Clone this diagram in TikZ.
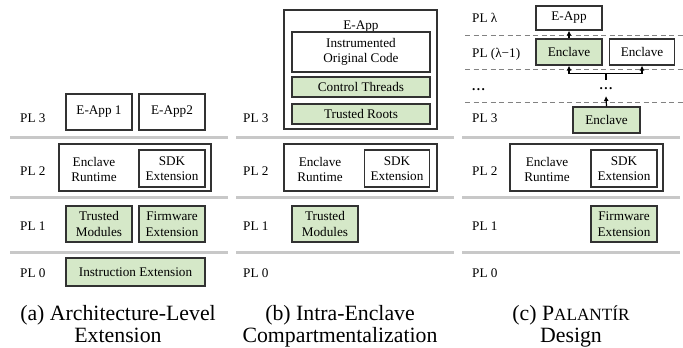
\documentclass[tikz,border=0pt]{standalone}
\usepackage{fontspec}
\setmainfont{Liberation Serif}
\usetikzlibrary{arrows.meta}
\definecolor{boxdraw}{RGB}{50,50,50}
\definecolor{greenfill}{RGB}{213,232,200}
\definecolor{sepgray}{RGB}{200,200,200}
\definecolor{dashgray}{RGB}{130,130,130}
\tikzset{
  box/.style={draw=boxdraw, line width=1.2pt, fill=white, inner sep=1pt, align=center,
    font=\fontsize{13.2}{15.6}\selectfont},
  gbox/.style={box, fill=greenfill},
  txt/.style={inner sep=0pt, align=center, font=\fontsize{13.2}{15.6}\selectfont},
  pl/.style={inner sep=0pt, anchor=base west, font=\fontsize{13.2}{15}\selectfont},
  captext/.style={inner sep=0pt, anchor=base, font=\fontsize{21.8}{22}\selectfont},
  sepline/.style={draw=sepgray, line width=3pt},
  dashline/.style={draw=dashgray, line width=0.9pt, dash pattern=on 5pt off 3.5pt},
  arr/.style={draw=black, line width=1.2pt, -{Latex[length=5pt,width=5pt]}},
  conn/.style={draw=black, line width=1.2pt},
}
\begin{document}
\begin{tikzpicture}[x=1pt,y=-1pt]
\useasboundingbox (0,0) rectangle (683,348);

% ---------- separators ----------
\foreach \yy in {137,197,252} {
  \draw[sepline] (10,\yy) -- (228,\yy);
  \draw[sepline] (236,\yy) -- (454,\yy);
  \draw[sepline] (462,\yy) -- (680,\yy);
}
\foreach \yy in {35,69.5,102} {
  \draw[dashline] (465,\yy) -- (683,\yy);
}

% ---------- panel (a) ----------
\node[pl] (plA3) at (20,122.8) {PL 3};
\node[pl] (plA2) at (20,175.4) {PL 2};
\node[pl] (plA1) at (20,230.4) {PL 1};
\node[pl] (plA0) at (20,277.4) {PL 0};
\node[box, minimum width=66pt, minimum height=36pt] (eappA1) at (99,112) {E-App 1};
\node[box, minimum width=66pt, minimum height=36pt] (eappA2) at (172,112) {E-App2};
\node[box, minimum width=152pt, minimum height=47pt] (rtA) at (135,167.5) {};
\node[txt] (rtAt) at (94,169.5) {Enclave\\Runtime};
\node[box, minimum width=66pt, minimum height=37pt] (sdkA) at (172,168.5) {SDK\\Extension};
\node[gbox, minimum width=66pt, minimum height=36pt] (tmA) at (99,224) {Trusted\\Modules};
\node[gbox, minimum width=66pt, minimum height=36pt] (fwA) at (172,224) {Firmware\\Extension};
\node[gbox, minimum width=139pt, minimum height=28pt] (insA) at (135.5,272) {Instruction Extension};
\node[captext] (capA1) at (118,320.7) {(a) Architecture-Level};
\node[captext] (capA2) at (118,342.7) {Extension};

% ---------- panel (b) ----------
\node[pl] (plB3) at (243,122.8) {PL 3};
\node[pl] (plB2) at (243,175.4) {PL 2};
\node[pl] (plB1) at (243,230.4) {PL 1};
\node[pl] (plB0) at (243,277.4) {PL 0};
\node[box, minimum width=153pt, minimum height=119pt] (eappB) at (360.5,69.5) {};
\node[txt, anchor=base] (eappBt) at (361,29.3) {E-App};
\node[box, minimum width=138pt, minimum height=40pt] (instrB) at (361,52) {Instrumented\\Original Code};
\node[gbox, minimum width=138pt, minimum height=20pt] (ctrlB) at (361,87) {Control Threads};
\node[gbox, minimum width=138pt, minimum height=20pt] (rootsB) at (361,114) {Trusted Roots};
\node[box, minimum width=153pt, minimum height=47pt] (rtB) at (360.5,167.5) {};
\node[txt] (rtBt) at (320,169.5) {Enclave\\Runtime};
\node[box, minimum width=65pt, minimum height=37pt] (sdkB) at (397,168.5) {SDK\\Extension};
\node[gbox, minimum width=66pt, minimum height=36pt] (tmB) at (325,224) {Trusted\\Modules};
\node[captext] (capB1) at (340,320.7) {(b) Intra-Enclave};
\node[captext] (capB2) at (340,342.7) {Compartmentalization};

% ---------- panel (c) ----------
\node[pl] (plCl) at (472,22.4) {PL λ};
\node[pl] (plCl1) at (472,57.4) {PL (λ−1)};
\node[pl] (dotsCl) at (472,90.5) {\textbf{.\kern1.4pt.\kern1.4pt.}};
\node[pl] (plC3) at (472,122.8) {PL 3};
\node[pl] (plC2) at (472,175.4) {PL 2};
\node[pl] (plC1) at (472,230.4) {PL 1};
\node[pl] (plC0) at (472,277.4) {PL 0};
\node[box, minimum width=66pt, minimum height=24pt] (eappC) at (569,18) {E-App};
\node[gbox, minimum width=66pt, minimum height=26pt] (encG) at (569,52) {Enclave};
\node[box, minimum width=65pt, minimum height=26pt] (encW) at (642,52) {Enclave};
\node[txt, anchor=base] (dotsC) at (606,89) {\textbf{.\kern1.4pt.\kern1.4pt.}};
\node[gbox, minimum width=67pt, minimum height=26pt] (encB) at (606.5,120) {Enclave};
\node[box, minimum width=153pt, minimum height=47pt] (rtC) at (586.5,167.5) {};
\node[txt] (rtCt) at (547,169.5) {Enclave\\Runtime};
\node[box, minimum width=66pt, minimum height=37pt] (sdkC) at (624,168.5) {SDK\\Extension};
\node[gbox, minimum width=66pt, minimum height=36pt] (fwC) at (624,224) {Firmware\\Extension};
\coordinate (dotsTop) at (606,80);
\coordinate (dotsBot) at (606,96);
\coordinate (branch) at (606,73.5);
\draw[arr] (encG.north) -- (eappC.south);
\draw[arr] (encB.north) -- (dotsBot);
\draw[conn] (dotsTop) -- (branch);
\draw[arr] (branch) -| (encG.south);
\draw[arr] (branch) -| (encW.south);
\node[captext] (capC1) at (571,320.7) {(c) P{\fontsize{17.2}{20}\selectfont ALANTÍR}};
\node[captext] (capC2) at (571,342.7) {Design};
\end{tikzpicture}
\end{document}
